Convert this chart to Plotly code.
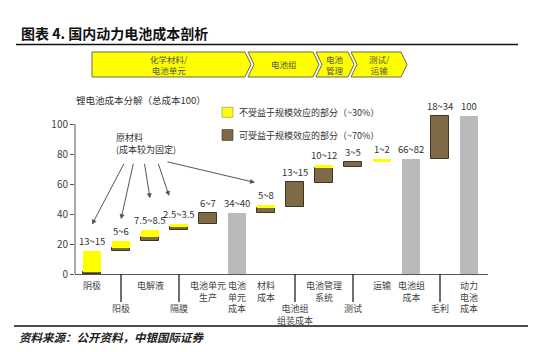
import plotly.graph_objects as go

# ---------------- data ----------------
categories = ['阴极', '阳极', '电解液', '隔膜', '电池单元生产', '电池单元成本', '材料成本',
              '电池组组装成本', '电池管理系统', '测试', '运输', '电池组成本', '毛利', '动力电池成本']
axis_labels = ['阴极', '阳极', '电解液', '隔膜', '电池单元<br>生产', '电池<br>单元<br>成本', '材料<br>成本',
               '电池组<br>组装成本', '电池管理<br>系统', '测试', '运输', '电池组<br>成本', '毛利', '动力<br>电池<br>成本']
label_row = [1, 2, 1, 2, 1, 1, 1, 2, 1, 2, 1, 1, 2, 1]
range_labels = ['13~15', '5~6', '7.5~8.5', '2.5~3.5', '6~7', '34~40', '5~8', '13~15',
                '10~12', '3~5', '1~2', '66~82', '18~34', '100']
# scalable part (brown): low / high
brown_low = [0, 15.3, 22, 29.5, 33.5, None, 41, 45, 61, 71.5, None, None, 76.5, None]
brown_high = [1.5, 17.5, 24.7, 31.5, 41, None, 43.7, 61.3, 70.4, 75, None, None, 105.3, None]
# non-scalable part (yellow): low / high
yellow_low = [1.5, 17.5, 24.7, 31.5, None, None, 43.7, None, 70.4, None, 74.5, None, None, None]
yellow_high = [15.5, 22.2, 29.5, 33.5, None, None, 46, None, 72.9, None, 76.5, None, None, None]
# subtotal bars (gray)
gray_high = [None, None, None, None, None, 40.7, None, None, None, None, None, 76.7, None, 105.3]

yticks = [0, 20, 40, 60, 80, 100]
banner = ['化学材料/<br>电池单元', '电池组', '电池<br>管理', '测试/<br>运输']
legend_texts = ['不受益于规模效应的部分（~30%）', '可受益于规模效应的部分（~70%）']

# ---------------- style ----------------
W, H = 534, 352
ML, MR, MT, MB = 75, 46, 109, 78
PW, PH = W - ML - MR, H - MT - MB
XR = [-0.586, 13.655]
YR = [0, 110]
YEL, BRN, BRN_LINE, GRY = '#FFFF00', '#7E6A47', '#3E3422', '#B8BABC'
FONT = 'Noto Sans CJK SC'
TXT = '#333333'


def px(x):
    return (x - ML) / PW


def py(y):
    return (H - MB - y) / PH


def ipx(i):
    return (i - XR[0]) / (XR[1] - XR[0])


def seg(lows, highs):
    xs, ys, bs = [], [], []
    for i, (lo, hi) in enumerate(zip(lows, highs)):
        if lo is not None and hi is not None:
            xs.append(i)
            ys.append(hi - lo)
            bs.append(lo)
    return xs, ys, bs


fig = go.Figure()
gx, gy, gb = seg([0 if v is not None else None for v in gray_high], gray_high)
fig.add_trace(go.Bar(x=gx, y=gy, base=gb, width=0.64, marker=dict(color=GRY, line=dict(width=0)),
                     showlegend=False, hoverinfo='skip'))
bx, by, bb = seg(brown_low, brown_high)
fig.add_trace(go.Bar(x=bx, y=by, base=bb, width=0.64,
                     marker=dict(color=BRN, line=dict(color=BRN_LINE, width=1)),
                     showlegend=False, hoverinfo='skip'))
yx, yy, yb = seg(yellow_low, yellow_high)
fig.add_trace(go.Bar(x=yx, y=yy, base=yb, width=0.64, marker=dict(color=YEL, line=dict(width=0)),
                     showlegend=False, hoverinfo='skip'))

ann = []
shapes = []

# data labels on top of bars
for i, lab in enumerate(range_labels):
    tops = [v for v in (brown_high[i], yellow_high[i], gray_high[i]) if v is not None]
    ann.append(dict(x=i, y=max(tops), xref='x', yref='y', text=lab, showarrow=False,
                    yanchor='bottom', yshift=1, font=dict(size=9.5, color=TXT, family=FONT)))

# category labels (two rows) and long ticks for the second row
for i, (lab, row) in enumerate(zip(axis_labels, label_row)):
    ann.append(dict(x=i, y=0, xref='x', yref='paper', text=lab, showarrow=False,
                    yanchor='top', yshift=-3 if row == 1 else -26,
                    font=dict(size=9, color='#444444', family=FONT)))
    if row == 2:
        shapes.append(dict(type='line', xref='paper', yref='paper', x0=ipx(i), x1=ipx(i),
                           y0=0, y1=py(302), line=dict(color='#222222', width=1.3)))

# y axis line (0..100)
shapes.append(dict(type='line', xref='paper', yref='y', x0=0, x1=0, y0=0, y1=100,
                   line=dict(color='#555555', width=1)))

# header title and rules
ann.append(dict(x=px(19), y=py(33), xref='paper', yref='paper', xanchor='left', yanchor='middle',
                text='<b>图表 4. 国内动力电池成本剖析</b>', showarrow=False,
                font=dict(size=14, color='#111111', family=FONT)))
shapes.append(dict(type='line', xref='paper', yref='paper', x0=px(16), x1=px(518),
                   y0=py(44.5), y1=py(44.5), line=dict(color='#111111', width=1.3)))
shapes.append(dict(type='line', xref='paper', yref='paper', x0=px(14), x1=px(528),
                   y0=py(326), y1=py(326), line=dict(color='#111111', width=1.3)))
ann.append(dict(x=px(17), y=py(337), xref='paper', yref='paper', xanchor='left', yanchor='middle',
                text='<i><b>资料来源：公开资料，中银国际证券</b></i>', showarrow=False,
                font=dict(size=11.5, color='#222222', family=FONT)))

# banner chevrons
top, bot, mid, d = 52, 77, 64.5, 6
chev = [(92, 245, False), (248, 313, True), (316, 348, True), (351, 401, True)]
for (x0, x1, notch), txt in zip(chev, banner):
    pts = [(x0, top), (x1, top), (x1 + d, mid), (x1, bot), (x0, bot)]
    if notch:
        pts.append((x0 + d, mid))
    path = 'M ' + ' L '.join(f'{px(a):.5f},{py(b):.5f}' for a, b in pts) + ' Z'
    shapes.append(dict(type='path', xref='paper', yref='paper', path=path,
                       fillcolor='#FFFF00', line=dict(color='#6E6A4A', width=1)))
    cx = (x0 + x1) / 2 + (d / 2 if notch else 0)
    ann.append(dict(x=px(cx), y=py(mid), xref='paper', yref='paper', text=txt, showarrow=False,
                    xanchor='center', yanchor='middle',
                    font=dict(size=8.5, color='#555555', family=FONT)))

# subtitle
ann.append(dict(x=px(74), y=py(100), xref='paper', yref='paper', xanchor='left', yanchor='middle',
                text='锂电池成本分解（总成本100）', showarrow=False,
                font=dict(size=9.5, color=TXT, family=FONT)))

# legend
for (y0, y1), col, txt in zip([(107.3, 117.3), (129.5, 140.5)], [YEL, BRN], legend_texts):
    shapes.append(dict(type='rect', xref='paper', yref='paper', x0=px(222), x1=px(233),
                       y0=py(y1), y1=py(y0), fillcolor=col,
                       line=dict(color='#888866' if col == YEL else BRN_LINE, width=0.6)))
    ann.append(dict(x=px(237), y=py((y0 + y1) / 2), xref='paper', yref='paper', xanchor='left',
                    yanchor='middle', text=txt, showarrow=False,
                    font=dict(size=9, color=TXT, family=FONT)))

# raw material note and arrows
ann.append(dict(x=px(114), y=py(143), xref='paper', yref='paper', xanchor='left', yanchor='middle',
                text='原材料<br>(成本较为固定)', showarrow=False, align='left',
                font=dict(size=9, color=TXT, family=FONT)))
arrows = [(0, 33, 32.6, -62), (1, 36.5, 12.6, -57), (2, 50.5, -5.7, -36),
          (2.66, 52, -11.3, -33.7), (5.62, 61, -89, -21)]
for x, y, ax, ay in arrows:
    ann.append(dict(x=x, y=y, xref='x', yref='y', ax=ax, ay=ay, text='', showarrow=True,
                    arrowhead=2, arrowsize=1, arrowwidth=1, arrowcolor='#555555'))

fig.update_layout(
    width=W, height=H, margin=dict(l=ML, r=MR, t=MT, b=MB),
    paper_bgcolor='white', plot_bgcolor='white', barmode='overlay', bargap=0,
    showlegend=False, annotations=ann, shapes=shapes,
    font=dict(family=FONT, color=TXT),
    xaxis=dict(range=XR, showgrid=False, zeroline=False, showline=True, linecolor='#555555',
               linewidth=1, showticklabels=False, ticks='', fixedrange=True),
    yaxis=dict(range=YR, showgrid=False, zeroline=False, showline=False, tickvals=yticks,
               ticks='outside', ticklen=4, tickcolor='#555555',
               tickfont=dict(size=10, color='#444444', family=FONT), fixedrange=True),
)

fig.write_html('out.html')
